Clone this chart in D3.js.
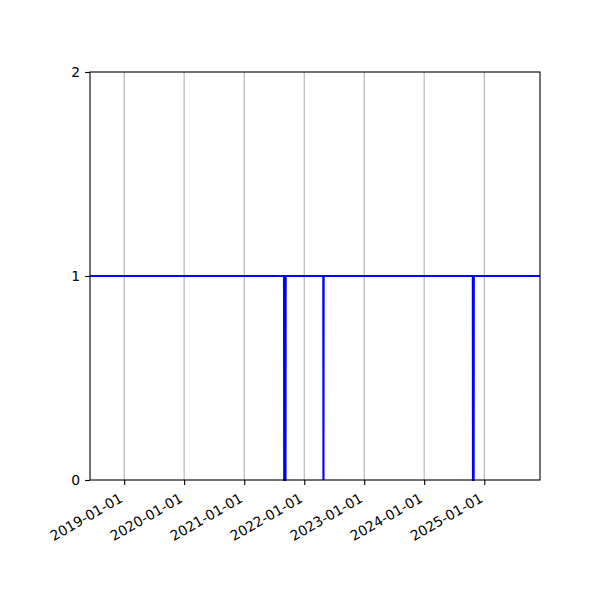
<!DOCTYPE html>
<html>
<head>
<meta charset="utf-8">
<script src="https://cdn.jsdelivr.net/npm/d3@7"></script>
<style>
  body { margin: 0; background: #fff; }
  text { font-family: "DejaVu Sans", sans-serif; }
</style>
</head>
<body>
<svg id="chart" width="600" height="600"></svg>
<script>
// Data: binary status series (dates where the value changes)
const dates = [
  "2018-06-07",
  "2021-08-31", "2021-09-01", "2021-09-09", "2021-09-10",
  "2022-04-27", "2022-04-28", "2022-04-29",
  "2024-10-23", "2024-10-24", "2024-10-28", "2024-10-29",
  "2025-12-06"
];
const values = [
  1,
  1, 0, 0, 1,
  1, 0, 1,
  1, 0, 0, 1,
  1
];
const xTickLabels = ["2019-01-01", "2020-01-01", "2021-01-01", "2022-01-01", "2023-01-01", "2024-01-01", "2025-01-01"];
const yTickLabels = [0, 1, 2];

const parse = d3.timeParse("%Y-%m-%d");
const data = dates.map((d, i) => ({ date: parse(d), value: values[i] }));

const svg = d3.select("#chart");
const margin = { left: 90, right: 60, top: 72, bottom: 120 };
const W = 600, H = 600;

const x = d3.scaleTime()
  .domain(d3.extent(data, d => d.date))
  .range([margin.left, W - margin.right]);
const y = d3.scaleLinear()
  .domain([0, 2])
  .range([H - margin.bottom, margin.top]);

const xTicks = xTickLabels.map(parse);

// vertical grid
svg.append("g")
  .selectAll("line")
  .data(xTicks)
  .join("line")
  .attr("x1", d => x(d)).attr("x2", d => x(d))
  .attr("y1", y(0)).attr("y2", y(2))
  .attr("stroke", "#b0b0b0")
  .attr("stroke-width", 1.1);

// line
const line = d3.line()
  .x(d => x(d.date))
  .y(d => y(d.value));
svg.append("path")
  .datum(data)
  .attr("d", line)
  .attr("fill", "none")
  .attr("stroke", "#0000ff")
  .attr("stroke-width", 2.1);

// frame
svg.append("rect")
  .attr("x", margin.left).attr("y", margin.top)
  .attr("width", W - margin.left - margin.right)
  .attr("height", H - margin.top - margin.bottom)
  .attr("fill", "none")
  .attr("stroke", "#000")
  .attr("stroke-width", 1.1);

// x axis
const xAxis = d3.axisBottom(x)
  .tickValues(xTicks)
  .tickFormat(d3.timeFormat("%Y-%m-%d"))
  .tickSizeInner(4.9)
  .tickSizeOuter(0)
  .tickPadding(4.9);
const gx = svg.append("g")
  .attr("transform", `translate(0,${y(0)})`)
  .call(xAxis);
gx.select(".domain").remove();
gx.selectAll(".tick line").attr("stroke", "#000").attr("stroke-width", 1.1);
gx.selectAll(".tick text")
  .attr("font-size", "13.9px")
  .attr("font-family", "DejaVu Sans, sans-serif")
  .attr("fill", "#000")
  .attr("text-anchor", "end")
  .attr("dy", null)
  .attr("y", null)
  .attr("transform", "translate(-1,21) rotate(-30)")
  .attr("dominant-baseline", "auto");

// y axis
const yAxis = d3.axisLeft(y)
  .tickValues(yTickLabels)
  .tickFormat(d3.format("d"))
  .tickSizeInner(4.9)
  .tickSizeOuter(0)
  .tickPadding(4.9);
const gy = svg.append("g")
  .attr("transform", `translate(${margin.left},0)`)
  .call(yAxis);
gy.select(".domain").remove();
gy.selectAll(".tick line").attr("stroke", "#000").attr("stroke-width", 1.1);
gy.selectAll(".tick text")
  .attr("font-size", "13.9px")
  .attr("font-family", "DejaVu Sans, sans-serif")
  .attr("fill", "#000");
</script>
</body>
</html>
